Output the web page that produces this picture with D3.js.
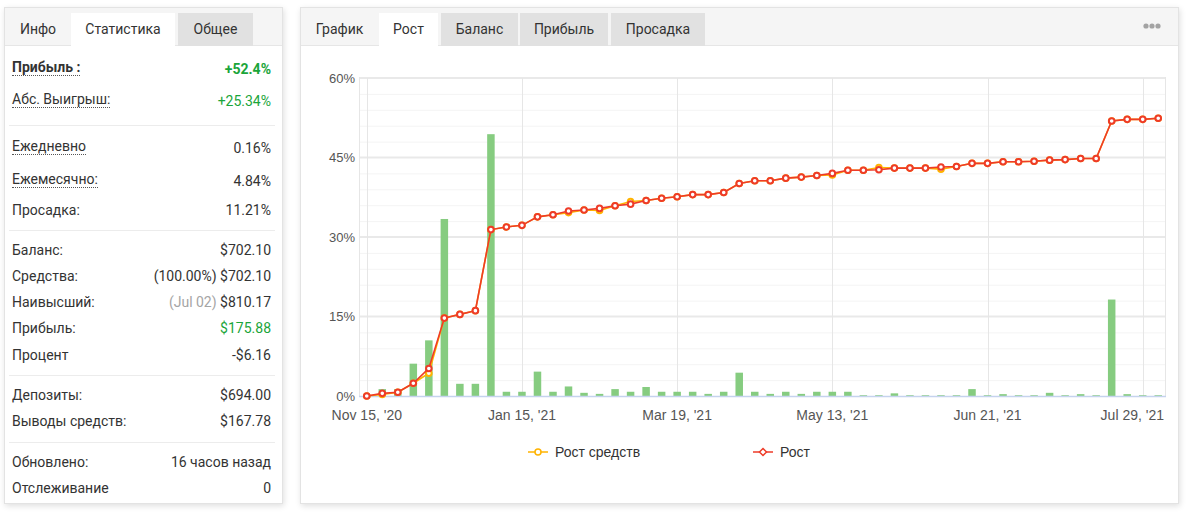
<!DOCTYPE html>
<html>
<head>
<meta charset="utf-8">
<script src="https://cdn.jsdelivr.net/npm/d3@7"></script>
<style>
body { margin: 0; background: #fff; font-family: Roboto, Arial, sans-serif; color: #333; width: 1192px; height: 515px; overflow: hidden; position: relative; }
.panel { position: absolute; background: #fff; border: 1px solid #e3e3e3; box-sizing: border-box; box-shadow: 1px 2px 6px rgba(0,0,0,0.13); }
.head { position: absolute; background: #f5f5f5; border-bottom: 1px solid #e6e6e6; box-sizing: border-box; }
.tab { position: absolute; height: 33px; line-height: 33px; text-align: center; font-size: 14px; color: #333; }
.tab.on { background: #fff; height: 34px; }
.tab.off { background: #e1e1e1; }
.row { position: absolute; font-size: 14px; height: 16px; line-height: 16px; }
.lbl { position: absolute; left: 12px; white-space: nowrap; }
.lbl.dot { border-bottom: 1px dotted #555; }
.val { position: absolute; right: 921px; white-space: nowrap; }
.sep { position: absolute; left: 9px; width: 266px; height: 1px; background: #ececec; }
svg { position: absolute; left: 0; top: 0; }
</style>
</head>
<body>
<script>
// ---- data ----
const leftTabs = ["Инфо", "Статистика", "Общее"];
const rightTabs = ["График", "Рост", "Баланс", "Прибыль", "Просадка"];

const statLabels = ["Прибыль :", "Абс. Выигрыш:", "Ежедневно", "Ежемесячно:", "Просадка:",
    "Баланс:", "Средства:", "Наивысший:", "Прибыль:", "Процент",
    "Депозиты:", "Выводы средств:", "Обновлено:", "Отслеживание"];
const statNotes = ["", "", "", "", "", "", "(100.00%)", "(Jul 02)", "", "", "", "", "", ""];
const statValues = ["+52.4%", "+25.34%", "0.16%", "4.84%", "11.21%",
    "$702.10", "$702.10", "$810.17", "$175.88", "-$6.16",
    "$694.00", "$167.78", "16 часов назад", "0"];

// weekly points (Рост / Рост средств), in %
const growth = [0, 0.5, 0.7, 2.4, 5.2, 14.7, 15.4, 16.1, 31.4, 31.9,
    32.2, 33.8, 34.2, 34.9, 35.1, 35.4, 35.9, 36.2, 36.9, 37.3,
    37.6, 38.0, 38.0, 38.4, 40.1, 40.6, 40.6, 41.1, 41.3, 41.6,
    42.0, 42.6, 42.6, 42.7, 43.0, 43.0, 43.0, 43.2, 43.3, 43.9,
    43.9, 44.2, 44.2, 44.3, 44.5, 44.6, 44.8, 44.8, 51.9, 52.2,
    52.2, 52.4];
const equity = [0, 0.3, 0.7, 2.4, 4.3, 14.7, 15.4, 16.1, 31.4, 31.9,
    32.2, 33.8, 34.2, 34.6, 35.1, 35.0, 35.9, 36.7, 36.9, 37.3,
    37.6, 38.0, 38.0, 38.4, 40.1, 40.6, 40.6, 41.1, 41.3, 41.6,
    41.7, 42.6, 42.6, 43.1, 43.0, 43.0, 43.0, 42.8, 43.3, 43.9,
    43.9, 44.2, 44.2, 44.3, 44.5, 44.6, 44.8, 44.8, 51.9, 52.2,
    52.2, 52.4];
const bars = [0, 1.3, 1.3, 6.1, 10.5, 33.4, 2.3, 2.3, 49.4, 0.8,
    0.8, 4.6, 0.8, 1.8, 0.6, 0.4, 1.3, 0.8, 1.7, 0.8,
    0.8, 0.8, 0.4, 0.8, 4.4, 0.8, 0.4, 0.8, 0.4, 0.8,
    0.8, 0.8, 0.15, 0.15, 0.5, 0.15, 0.15, 0.15, 0.15, 1.3,
    0.15, 0.35, 0.15, 0.15, 0.6, 0.15, 0.35, 0.15, 18.2, 0.35,
    0.15, 0.15];

const tickIdx = [0, 10, 20, 30, 40, 50];
const tickLabels = ["Nov 15, '20", "Jan 15, '21", "Mar 19, '21", "May 13, '21", "Jun 21, '21", "Jul 29, '21"];
const yTicks = [0, 15, 30, 45, 60];
const seriesNames = ["Рост средств", "Рост"];

// ---- panels ----
var body = d3.select("body");

body.append("div").attr("class", "panel")
    .style("left", "4px").style("top", "7px").style("width", "279px").style("height", "497px");
body.append("div").attr("class", "head")
    .style("left", "5px").style("top", "8px").style("width", "277px").style("height", "38px");

var leftTabPos = [[5, 66, ""], [71, 104, "on"], [178, 75, "off"]];
leftTabs.forEach(function (t, i) {
    body.append("div").attr("class", "tab " + leftTabPos[i][2])
        .style("left", leftTabPos[i][0] + "px").style("top", "13px")
        .style("width", leftTabPos[i][1] + "px")
        .text(t);
});

body.append("div").attr("class", "panel")
    .style("left", "300px").style("top", "7px").style("width", "879px").style("height", "497px");
body.append("div").attr("class", "head")
    .style("left", "301px").style("top", "8px").style("width", "877px").style("height", "38px");

var rightTabPos = [[301, 77, ""], [379, 59, "on"], [441, 77, "off"], [520, 88, "off"], [611, 94, "off"]];
rightTabs.forEach(function (t, i) {
    body.append("div").attr("class", "tab " + rightTabPos[i][2])
        .style("left", rightTabPos[i][0] + "px").style("top", "13px")
        .style("width", rightTabPos[i][1] + "px")
        .text(t);
});

// stats rows
var rowY = [69, 101, 148, 181, 210, 250, 276, 302, 328, 355, 395, 421, 462, 488];
var dotted = [0, 1, 2, 3];
var greens = [0, 1, 8];
statLabels.forEach(function (l, i) {
    var row = body.append("div").attr("class", "row")
        .style("left", "0px").style("top", (rowY[i] - 8) + "px").style("width", "1192px");
    row.append("span").attr("class", "lbl" + (dotted.includes(i) ? " dot" : ""))
        .style("top", dotted.includes(i) ? "-2px" : "0px")
        .style("font-weight", i == 0 ? "bold" : "normal")
        .text(l);
    var v = row.append("span").attr("class", "val")
        .style("color", greens.includes(i) ? "#1aa53a" : "#333")
        .style("font-weight", i == 0 ? "bold" : "normal");
    if (statNotes[i]) {
        v.append("span").style("color", i == 7 ? "#a5a5a5" : "#333").text(statNotes[i] + " ");
    }
    v.append("span").text(statValues[i]);
});
[125, 230, 375, 442].forEach(function (s) {
    body.append("div").attr("class", "sep").style("top", s + "px");
});

// ---- chart ----
var svg = body.append("svg").attr("width", 1192).attr("height", 515);

// menu dots
[1146, 1152, 1158].forEach(function (cx) {
    svg.append("circle").attr("cx", cx).attr("cy", 26).attr("r", 2.6).attr("fill", "#a3a3a3");
});

var x = d3.scaleBand().domain(d3.range(growth.length)).range([359, 1166]);
var y = d3.scaleLinear().domain([0, 60]).range([396, 78]);
var bw = x.bandwidth();
var cx = function (i) { return x(i) + bw / 2; };

var grid = svg.append("g");
// minor grid every 3%
grid.selectAll(".minor")
    .data(d3.range(3, 60, 3).filter(function (d) { return d % 15 != 0; }))
    .enter().append("line")
    .attr("x1", 359).attr("x2", 1166)
    .attr("y1", function (d) { return y(d) + 0.5; })
    .attr("y2", function (d) { return y(d) + 0.5; })
    .attr("stroke", "#f4f4f4");
grid.selectAll(".major")
    .data([15, 30, 45, 60])
    .enter().append("line")
    .attr("x1", 359).attr("x2", 1166)
    .attr("y1", function (d) { return y(d); })
    .attr("y2", function (d) { return y(d); })
    .attr("stroke", "#e9e9e9").attr("stroke-width", 2);
grid.selectAll(".vert")
    .data(tickIdx)
    .enter().append("line")
    .attr("x1", function (d) { return Math.round(cx(d)) + 0.5; })
    .attr("x2", function (d) { return Math.round(cx(d)) + 0.5; })
    .attr("y1", 78).attr("y2", 396)
    .attr("stroke", "#e6e6e6");
grid.append("line").attr("x1", 359.5).attr("x2", 359.5).attr("y1", 77).attr("y2", 396).attr("stroke", "#e6e6e6");
grid.append("line").attr("x1", 1165.5).attr("x2", 1165.5).attr("y1", 77).attr("y2", 396).attr("stroke", "#e6e6e6");

// bars
svg.append("g").selectAll("rect")
    .data(bars)
    .enter().append("rect")
    .attr("x", function (d, i) { return cx(i) - 3.75; })
    .attr("width", 7.5)
    .attr("y", function (d) { return y(d); })
    .attr("height", function (d) { return y(0) - y(d); })
    .attr("fill", "#86cc80");

// x axis line
svg.append("line").attr("x1", 359).attr("x2", 1166).attr("y1", 396.5).attr("y2", 396.5)
    .attr("stroke", "#c5d3ee").attr("stroke-width", 1.5);

// axes
var yAxis = svg.append("g")
    .attr("transform", "translate(359,0)")
    .call(d3.axisLeft(y).tickValues(yTicks).tickSize(0).tickPadding(4).tickFormat(function (d) { return d + "%"; }));
yAxis.select(".domain").remove();
yAxis.selectAll("text").attr("fill", "#555").style("font-size", "13px").style("font-family", "Arial, 'Liberation Sans', sans-serif");

var xAxis = svg.append("g")
    .attr("transform", "translate(0,396)")
    .call(d3.axisBottom(x).tickValues(tickIdx).tickSize(0).tickPadding(14)
        .tickFormat(function (d) { return tickLabels[tickIdx.indexOf(d)]; }));
xAxis.select(".domain").remove();
xAxis.selectAll("text").attr("fill", "#555").style("font-size", "14px").style("font-family", "Arial, 'Liberation Sans', sans-serif");
// keep last label inside the plot
xAxis.selectAll(".tick").each(function (d) {
    var t = d3.select(this).select("text");
    var w = t.node().getComputedTextLength();
    if (cx(d) + w / 2 > 1164) {
        t.attr("text-anchor", "end").attr("x", 1164 - cx(d));
    }
});

// lines
var line = function (vals) {
    return d3.line()
        .x(function (d, i) { return cx(i); })
        .y(function (d) { return y(d); })(vals);
};
var colors = ["#ffb300", "#ee3b28"];
[equity, growth].forEach(function (vals, k) {
    svg.append("path")
        .attr("d", line(vals))
        .attr("fill", "none")
        .attr("stroke", colors[k])
        .attr("stroke-width", 1.6);
    svg.append("g").selectAll("circle")
        .data(vals)
        .enter().append("circle")
        .attr("cx", function (d, i) { return cx(i); })
        .attr("cy", function (d) { return y(d); })
        .attr("r", 2.8)
        .attr("fill", "#fff")
        .attr("stroke", colors[k])
        .attr("stroke-width", 2);
});

// legend
var legX = [528, 753];
seriesNames.forEach(function (n, k) {
    var g = svg.append("g").attr("transform", "translate(" + legX[k] + ",452)");
    g.append("line").attr("x1", 0).attr("x2", 20).attr("stroke", colors[k]).attr("stroke-width", 1.5);
    if (k == 0) {
        g.append("circle").attr("cx", 10).attr("r", 3).attr("fill", "#fff").attr("stroke", colors[k]).attr("stroke-width", 1.5);
    } else {
        g.append("path").attr("d", "M10,-3.5L13.5,0L10,3.5L6.5,0Z").attr("fill", "#fff").attr("stroke", colors[k]).attr("stroke-width", 1.5);
    }
    g.append("text").attr("x", 27).attr("dy", "0.35em")
        .attr("fill", "#333")
        .style("font-size", "14px").style("font-family", "Arial, 'Liberation Sans', sans-serif")
        .text(n);
});
</script>
</body>
</html>
